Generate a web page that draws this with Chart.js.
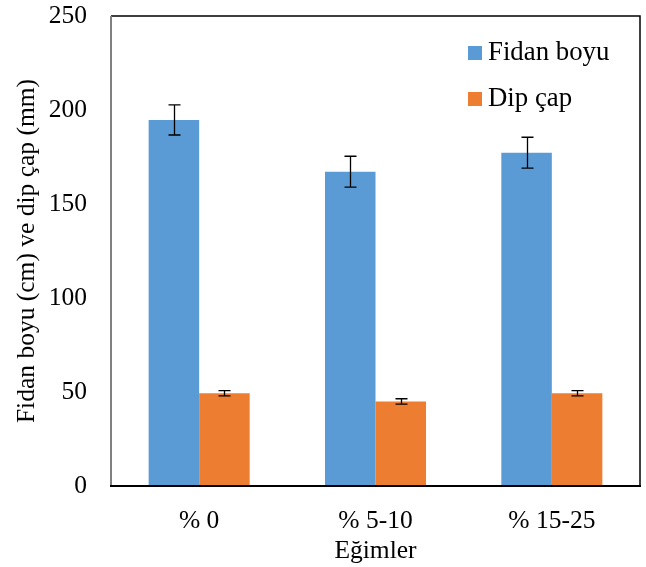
<!DOCTYPE html>
<html>
<head>
<meta charset="utf-8">
<script src="https://cdn.jsdelivr.net/npm/chart.js@4"></script>
<style>
html,body{margin:0;padding:0;background:#fff;}
#wrap{width:646px;height:567px;}
</style>
</head>
<body>
<div id="wrap"><canvas id="c" width="646" height="567"></canvas></div>
<script>
const categories = ['% 0', '% 5-10', '% 15-25'];
const seriesNames = ['Fidan boyu', 'Dip çap'];
const fidanBoyu = [194.7, 167.2, 177.3];
const fidanBoyuErr = [8.0, 8.2, 8.2];
const dipCap = [49.3, 45.0, 49.3];
const dipCapErr = [1.4, 1.4, 1.4];
const yTicks = [0, 50, 100, 150, 200, 250];
const colors = ['#5b9bd5', '#ed7d31'];
const FONT = "'Liberation Serif', 'Times New Roman', serif";
const FS = 25.5;
const LEGEND_FS = 26.8;

const errorBars = {
  id: 'errorBars',
  afterDatasetsDraw(chart) {
    const ctx = chart.ctx;
    const y = chart.scales.y;
    ctx.save();
    ctx.strokeStyle = '#000';
    ctx.lineWidth = 1.3;
    chart.data.datasets.forEach((ds, di) => {
      const meta = chart.getDatasetMeta(di);
      meta.data.forEach((bar, i) => {
        const v = ds.data[i], e = ds.errors[i];
        const x = Math.round(bar.x) + 0.5;
        const yt = y.getPixelForValue(v + e), yb = y.getPixelForValue(v - e);
        const cap = 6;
        ctx.beginPath();
        ctx.moveTo(x, yt); ctx.lineTo(x, yb);
        ctx.moveTo(x - cap, yt); ctx.lineTo(x + cap, yt);
        ctx.moveTo(x - cap, yb); ctx.lineTo(x + cap, yb);
        ctx.stroke();
      });
    });
    ctx.restore();
  }
};

const frame = {
  id: 'frame',
  afterDraw(chart) {
    const {left, top, right, bottom} = chart.chartArea;
    const ctx = chart.ctx;
    ctx.save();
    ctx.lineWidth = 1.5;
    ctx.strokeStyle = '#000';
    ctx.beginPath();
    ctx.moveTo(left, top); ctx.lineTo(right, top); ctx.lineTo(right, bottom);
    ctx.stroke();
    ctx.strokeStyle = '#808080';
    ctx.lineWidth = 2;
    ctx.beginPath(); ctx.moveTo(left, top); ctx.lineTo(left, bottom); ctx.stroke();
    ctx.strokeStyle = '#000';
    ctx.lineWidth = 2;
    ctx.beginPath(); ctx.moveTo(left - 1, bottom); ctx.lineTo(right + 1, bottom); ctx.stroke();
    // legend
    ctx.font = LEGEND_FS + 'px ' + FONT;
    ctx.textBaseline = 'middle';
    ctx.textAlign = 'left';
    chart.data.datasets.forEach((ds, i) => {
      const ly = top + 37 + i * 46;
      ctx.fillStyle = ds.backgroundColor;
      ctx.fillRect(right - 172, ly - 7, 14, 14);
      ctx.fillStyle = '#000';
      ctx.fillText(ds.label, right - 152, ly);
    });
    ctx.restore();
  }
};

new Chart(document.getElementById('c'), {
  type: 'bar',
  data: {
    labels: categories,
    datasets: [
      {label: seriesNames[0], data: fidanBoyu, errors: fidanBoyuErr, backgroundColor: colors[0], borderWidth: 0},
      {label: seriesNames[1], data: dipCap, errors: dipCapErr, backgroundColor: colors[1], borderWidth: 0}
    ]
  },
  options: {
    responsive: false,
    animation: false,
    devicePixelRatio: 1,
    layout: {padding: {top: 16, right: 6, bottom: 0, left: 12}, autoPadding: false},
    datasets: {bar: {categoryPercentage: 0.573, barPercentage: 1.0}},
    plugins: {legend: {display: false}, tooltip: {enabled: false}},
    scales: {
      x: {
        grid: {display: false, drawTicks: false},
        border: {display: false},
        ticks: {color: '#000', font: {family: FONT, size: FS}, padding: 20, maxRotation: 0},
        title: {display: true, text: 'Eğimler', color: '#000', font: {family: FONT, size: FS}, padding: {top: 2, bottom: 0}},
        afterFit(scale) { scale.height = 81; }
      },
      y: {
        min: 0, max: 250,
        afterBuildTicks(scale) { scale.ticks = yTicks.map(v => ({value: v})); },
        grid: {display: false, drawTicks: false},
        border: {display: false},
        ticks: {color: '#000', font: {family: FONT, size: FS}, padding: 24},
        title: {display: true, text: 'Fidan boyu (cm) ve dip çap (mm)', color: '#000', font: {family: FONT, size: FS}, padding: {top: 0, bottom: 0}},
        afterFit(scale) { scale.width = 99; scale.paddingTop = 0; scale.paddingBottom = 0; }
      }
    }
  },
  plugins: [errorBars, frame]
});
</script>
</body>
</html>
